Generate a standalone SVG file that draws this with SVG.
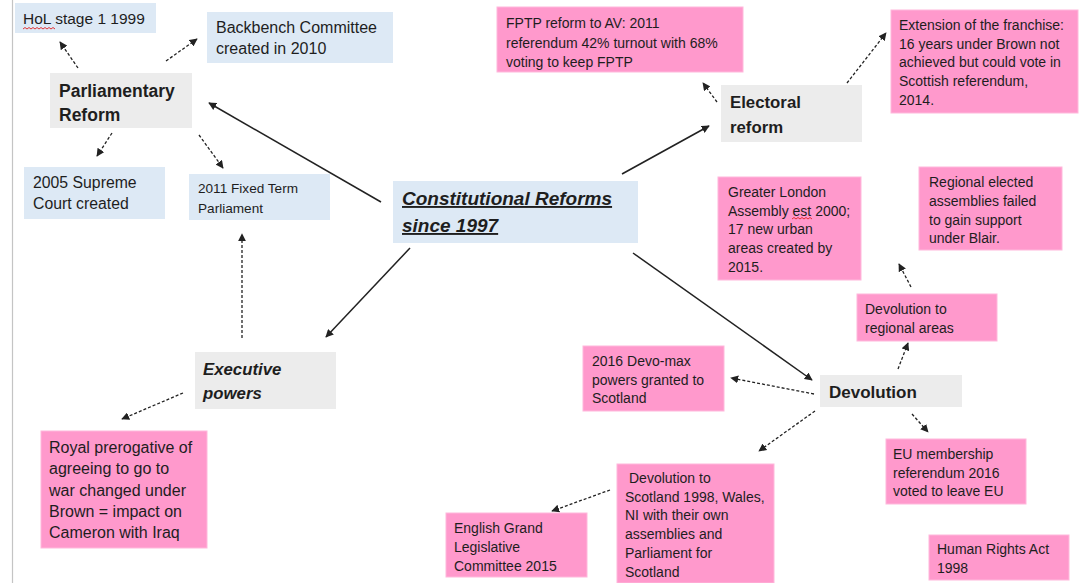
<svg xmlns="http://www.w3.org/2000/svg" width="1080" height="583" viewBox="0 0 1080 583">
<style>
.blue{fill:#dde9f5}
.grey{fill:#ececec}
.pink{fill:#ff99cc;stroke:#ffb8dc;stroke-width:1}
text{font-family:"Liberation Sans",Arial,sans-serif;fill:#1e1e1e}
.b{font-weight:bold}
.bi{font-weight:bold;font-style:italic}
.p{font-size:14px}
.solid{stroke:#222;stroke-width:1.5;fill:none}
.dash{stroke:#222;stroke-width:1.3;stroke-dasharray:3 2;fill:none}
.sq{stroke:#e02020;stroke-width:0.9;fill:none}
</style>
<defs>
<marker id="ah" viewBox="0 0 10 10" refX="9" refY="5" markerWidth="8" markerHeight="8" markerUnits="userSpaceOnUse" orient="auto">
<path d="M0,0 L10,5 L0,10 z" fill="#222"/>
</marker>
</defs>
<rect width="1080" height="583" fill="#fff"/>
<line x1="12.5" y1="0" x2="12.5" y2="583" stroke="#c4c4c4" stroke-width="1.2"/>

<g id="connectors">
<line class="solid" x1="381" y1="202" x2="209" y2="103" marker-end="url(#ah)"/>
<line class="solid" x1="622" y1="174" x2="709" y2="126" marker-end="url(#ah)"/>
<line class="solid" x1="410" y1="248" x2="326" y2="337" marker-end="url(#ah)"/>
<line class="solid" x1="633" y1="253" x2="812" y2="380" marker-end="url(#ah)"/>
<line class="dash" x1="78" y1="68" x2="60" y2="42" marker-end="url(#ah)"/>
<line class="dash" x1="166" y1="61" x2="197" y2="39" marker-end="url(#ah)"/>
<line class="dash" x1="112" y1="133" x2="97" y2="156" marker-end="url(#ah)"/>
<line class="dash" x1="199" y1="135" x2="223" y2="168" marker-end="url(#ah)"/>
<line class="dash" x1="242" y1="338" x2="242" y2="234" marker-end="url(#ah)"/>
<line class="dash" x1="183" y1="393" x2="122" y2="419" marker-end="url(#ah)"/>
<line class="dash" x1="717" y1="102" x2="703" y2="83" marker-end="url(#ah)"/>
<line class="dash" x1="847" y1="83" x2="886" y2="33" marker-end="url(#ah)"/>
<line class="dash" x1="911" y1="287" x2="899" y2="264" marker-end="url(#ah)"/>
<line class="dash" x1="898" y1="369" x2="908" y2="343" marker-end="url(#ah)"/>
<line class="dash" x1="814" y1="394" x2="731" y2="378" marker-end="url(#ah)"/>
<line class="dash" x1="912" y1="414" x2="928" y2="432" marker-end="url(#ah)"/>
<line class="dash" x1="815" y1="411" x2="759" y2="451" marker-end="url(#ah)"/>
<line class="dash" x1="610" y1="490" x2="552" y2="511" marker-end="url(#ah)"/>
</g>

<g id="hol">
<rect class="blue" x="15" y="3" width="141" height="30"/>
<text x="23" y="24" font-size="15.5">HoL stage 1 1999</text>
<path class="sq" d="M23,29 l2,-1.5 l2,1.5 l2,-1.5 l2,1.5 l2,-1.5 l2,1.5 l2,-1.5 l2,1.5 l2,-1.5 l2,1.5 l2,-1.5 l2,1.5 l2,-1.5 l2,1.5 l2,-1.5 l2,1.5"/>
</g>

<g id="backbench">
<rect class="blue" x="207" y="12" width="186" height="51"/>
<text x="216" y="33" font-size="16">Backbench Committee<tspan x="216" y="54">created in 2010</tspan></text>
</g>

<g id="parliamentary">
<rect class="grey" x="50" y="73" width="142" height="55"/>
<text class="b" x="59" y="97" font-size="17.5">Parliamentary<tspan x="59" y="121">Reform</tspan></text>
</g>

<g id="supreme">
<rect class="blue" x="24" y="167" width="141" height="52"/>
<text x="33" y="188" font-size="15.8">2005 Supreme<tspan x="33" y="209">Court created</tspan></text>
</g>

<g id="fixed">
<rect class="blue" x="189" y="174" width="141" height="46"/>
<text x="198" y="193" font-size="13.6">2011 Fixed Term<tspan x="198" y="213">Parliament</tspan></text>
</g>

<g id="constitutional">
<rect class="blue" x="393" y="181" width="245" height="62"/>
<text class="bi" x="402" y="205" font-size="19" text-decoration="underline">Constitutional Reforms<tspan x="402" y="232">since 1997</tspan></text>
</g>

<g id="fptp">
<rect class="pink" x="497" y="7" width="246" height="65"/>
<text class="p" x="506" y="28">FPTP reform to AV: 2011<tspan x="506" y="48">referendum 42% turnout with 68%</tspan><tspan x="506" y="67">voting to keep FPTP</tspan></text>
</g>

<g id="electoral">
<rect class="grey" x="721" y="85" width="141" height="57"/>
<text class="b" x="730" y="108" font-size="16.8">Electoral<tspan x="730" y="133">reform</tspan></text>
</g>

<g id="extension">
<rect class="pink" x="891" y="10" width="187" height="103"/>
<text class="p" x="899" y="30" font-size="14.3">Extension of the franchise:<tspan x="899" y="49">16 years under Brown not</tspan><tspan x="899" y="67">achieved but could vote in</tspan><tspan x="899" y="86">Scottish referendum,</tspan><tspan x="899" y="105">2014.</tspan></text>
</g>

<g id="london">
<rect class="pink" x="718" y="177" width="143" height="103"/>
<text class="p" x="728" y="197">Greater London<tspan x="728" y="216">Assembly est 2000;</tspan><tspan x="728" y="234">17 new urban</tspan><tspan x="728" y="253">areas created by</tspan><tspan x="728" y="272">2015.</tspan></text>
<path class="sq" d="M792,219 l2,-1.5 l2,1.5 l2,-1.5 l2,1.5 l2,-1.5 l2,1.5 l2,-1.5 l2,1.5 l2,-1.5 l2,1.5"/>
</g>

<g id="regional-elected">
<rect class="pink" x="919" y="167" width="143" height="83"/>
<text class="p" x="929" y="187">Regional elected<tspan x="929" y="206">assemblies failed</tspan><tspan x="929" y="225">to gain support</tspan><tspan x="929" y="243">under Blair.</tspan></text>
</g>

<g id="devolution-regional">
<rect class="pink" x="857" y="294" width="140" height="47"/>
<text class="p" x="865" y="314">Devolution to<tspan x="865" y="333">regional areas</tspan></text>
</g>

<g id="devomax">
<rect class="pink" x="583" y="346" width="141" height="65"/>
<text class="p" x="592" y="366">2016 Devo-max<tspan x="592" y="385">powers granted to</tspan><tspan x="592" y="403">Scotland</tspan></text>
</g>

<g id="devolution">
<rect class="grey" x="820" y="375" width="142" height="32"/>
<text class="b" x="829" y="398" font-size="17">Devolution</text>
</g>

<g id="eu">
<rect class="pink" x="886" y="439" width="140" height="65"/>
<text class="p" x="893" y="459">EU membership<tspan x="893" y="478">referendum 2016</tspan><tspan x="893" y="496">voted to leave EU</tspan></text>
</g>

<g id="scotland">
<rect class="pink" x="617" y="464" width="157" height="119"/>
<text class="p" x="629" y="483">Devolution to<tspan x="625" y="502">Scotland 1998, Wales,</tspan><tspan x="625" y="520">NI with their own</tspan><tspan x="625" y="539">assemblies and</tspan><tspan x="625" y="558">Parliament for</tspan><tspan x="625" y="577">Scotland</tspan></text>
</g>

<g id="english">
<rect class="pink" x="446" y="513" width="141" height="64"/>
<text class="p" x="454" y="533">English Grand<tspan x="454" y="552">Legislative</tspan><tspan x="454" y="571">Committee 2015</tspan></text>
</g>

<g id="human-rights">
<rect class="pink" x="929" y="535" width="140" height="45"/>
<text class="p" x="937" y="554">Human Rights Act<tspan x="937" y="573">1998</tspan></text>
</g>

<g id="executive">
<rect class="grey" x="195" y="352" width="141" height="57"/>
<text class="bi" x="203" y="375" font-size="16.8">Executive<tspan x="203" y="399">powers</tspan></text>
</g>

<g id="royal">
<rect class="pink" x="41" y="431" width="166" height="117"/>
<text x="49" y="453" font-size="16">Royal prerogative of<tspan x="49" y="474">agreeing to go to</tspan><tspan x="49" y="496">war changed under</tspan><tspan x="49" y="517">Brown = impact on</tspan><tspan x="49" y="538">Cameron with Iraq</tspan></text>
</g>
</svg>
